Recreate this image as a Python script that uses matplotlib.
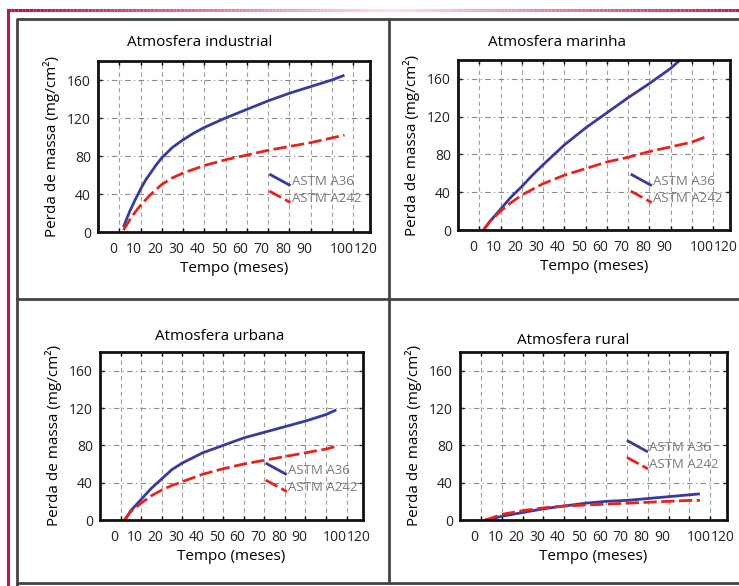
import matplotlib
matplotlib.use("Agg")
from matplotlib import pyplot as plt
from matplotlib.lines import Line2D
from matplotlib.legend_handler import HandlerLine2D
from matplotlib.collections import LineCollection
import numpy as np

plt.rcParams['font.family'] = ['Open Sans', 'DejaVu Sans']

# Data (tempo em meses, perda de massa em mg/cm2)
ind_x36 = [2, 3.5, 5, 7.5, 10, 12.5, 15, 17.5, 20, 25, 30, 35, 40, 45, 50, 60, 70, 80, 90, 100, 106]
ind_a36 = [5, 14, 22, 34, 45, 55, 63, 71, 78, 89, 97, 104, 110, 115, 120, 129, 138, 146, 153, 160, 165]
ind_x242 = [2, 5, 7.5, 10, 15, 20, 25, 30, 35, 40, 50, 60, 70, 80, 90, 100, 106]
ind_a242 = [2, 13, 21, 28, 40, 50, 57, 62, 66, 70, 76, 81, 86, 90, 94, 99, 102]

mar_x36 = [2, 5, 10, 15, 20, 25, 30, 40, 50, 60, 70, 80, 90, 95]
mar_a36 = [0, 9, 22, 35, 46, 58, 69, 90, 108, 124, 140, 155, 171, 181]
mar_x242 = [2, 5, 10, 15, 20, 25, 30, 40, 50, 60, 70, 80, 90, 100, 107]
mar_a242 = [0, 9, 20, 29, 37, 43, 49, 58, 65, 72, 77, 83, 88, 93, 99]

urb_x = [2, 5, 10, 15, 20, 25, 30, 40, 50, 60, 70, 80, 90, 100, 105]
urb_a36 = [0, 10, 22, 34, 44, 54, 61, 72, 80, 88, 94, 100, 106, 113, 118]
urb_a242 = [0, 9, 18, 26, 32, 37, 41, 49, 55, 60, 64, 68, 72, 76, 79]

rur_x = [2, 5, 10, 20, 30, 40, 50, 60, 70, 80, 90, 100, 105]
rur_a36 = [0, 1, 4, 8, 12, 15, 18, 20, 21, 23, 25, 27, 28]
rur_a242 = [0, 2, 6, 10, 13, 15, 16, 17, 18, 19, 20, 21, 21]

grid_x = [0, 10, 20, 30, 40, 50, 60, 70, 80, 90, 100, 110]
x_labels = ['0', '10', '20', '30', '40', '50', '60', '70', '80', '90', '100', '120']
# the printed labels sit a little off the grid lines in the original
label_x = [-3, 7, 17, 27, 37, 47, 57, 67, 77, 87, 104.5, 116]
y_ticks = [0, 40, 80, 120, 160]

panels = [
    ("Atmosfera industrial", ind_x36, ind_a36, ind_x242, ind_a242),
    ("Atmosfera marinha", mar_x36, mar_a36, mar_x242, mar_a242),
    ("Atmosfera urbana", urb_x, urb_a36, urb_x, urb_a242),
    ("Atmosfera rural", rur_x, rur_a36, rur_x, rur_a242),
]

W, H = 739, 586
# axes boxes in pixels: left, top, right, bottom
boxes = [(98, 61, 370, 232), (458, 60, 730, 230), (100, 352, 363, 520), (460, 352, 727, 520)]
title_pos = [(200, 42), (557, 42), (220, 337), (573, 340)]
leg_pos = [(0.63, 0.335), (0.635, 0.325), (0.63, 0.335), (0.625, 0.47)]

blue = '#3a3a9c'
red = '#e8231c'


class SlantHandler(HandlerLine2D):
    def create_artists(self, legend, orig_handle, xdescent, ydescent,
                       width, height, fontsize, trans):
        line = Line2D([-xdescent, -xdescent + width],
                      [-ydescent + height * 1.15, -ydescent - height * 0.1])
        self.update_prop(line, orig_handle, legend)
        line.set_transform(trans)
        return [line]


fig = plt.figure(figsize=(W / 100, H / 100), dpi=100)

# page frame
bg = fig.add_axes([0, 0, 1, 1], zorder=-1)
bg.set_xlim(0, W)
bg.set_ylim(H, 0)
bg.axis('off')
xs = np.linspace(7, W, 200)
segs = [[(xs[i], 10), (xs[i + 1], 10)] for i in range(len(xs) - 1)]
fade = np.clip(np.abs((xs[:-1] - 390) / 370), 0, 1)
cols = [(1 - 0.25 * f, 0.88 - 0.83 * f, 0.9 - 0.62 * f) for f in fade]
bg.add_collection(LineCollection(segs, colors=cols, linewidths=2.2))
bg.plot([7.5, 7.5], [10, H], color='#c0144e', lw=2.2)
bg.plot([17, 17, W], [H, 19, 19], color='#444444', lw=2)
bg.plot([17, W], [583, 583], color='#444444', lw=2)
bg.plot([389, 389], [19, 583], color='#444444', lw=2)
bg.plot([17, W], [299, 299], color='#444444', lw=2)

for (title, xa, ya, xb, yb), (l, t, r, b), (tx, ty), lp in zip(panels, boxes, title_pos, leg_pos):
    ax = fig.add_axes([l / W, 1 - b / H, (r - l) / W, (b - t) / H])
    ax.plot(xa, ya, color=blue, lw=2, label='ASTM A36', solid_capstyle='butt')
    ax.plot(xb, yb, color=red, lw=2, dashes=(4.8, 1.6), label='ASTM A242')
    ax.set_xlim(-10, 118)
    ax.set_ylim(0, 180)
    ax.set_xticks(label_x)
    ax.set_xticklabels(x_labels)
    ax.set_xticks(grid_x, minor=True)
    ax.set_yticks(y_ticks)
    ax.tick_params(axis='x', which='major', length=0, pad=7)
    ax.tick_params(axis='x', which='minor', direction='in', top=True, length=3, width=1)
    ax.tick_params(axis='y', direction='in', right=True, length=3, width=1, pad=5)
    ax.tick_params(labelsize=10, colors='#222222')
    ax.grid(True, axis='x', which='minor', color='#a0a0a0', lw=0.8, linestyle=(0, (4, 3)))
    ax.grid(True, axis='y', which='major', color='#8a8a8a', lw=0.8, linestyle=(0, (5, 3, 1, 3)))
    for s in ax.spines.values():
        s.set_linewidth(2)
        s.set_color('#111111')
    ax.set_xlabel('Tempo (meses)', fontsize=11, labelpad=3)
    ax.set_ylabel('Perda de massa (mg/cm²)', fontsize=11, labelpad=5)
    fig.text(tx / W, 1 - ty / H, title, fontsize=11, ha='center', va='center')
    leg = ax.legend(loc='upper left', bbox_to_anchor=lp, frameon=False,
                    handlelength=1.6, handletextpad=0.1, labelspacing=0.3,
                    borderpad=0, borderaxespad=0, fontsize=9.5,
                    handler_map={Line2D: SlantHandler()})
    for txt in leg.get_texts():
        txt.set_color('#7a7a7a')

plt.savefig('out.png', dpi=100)
